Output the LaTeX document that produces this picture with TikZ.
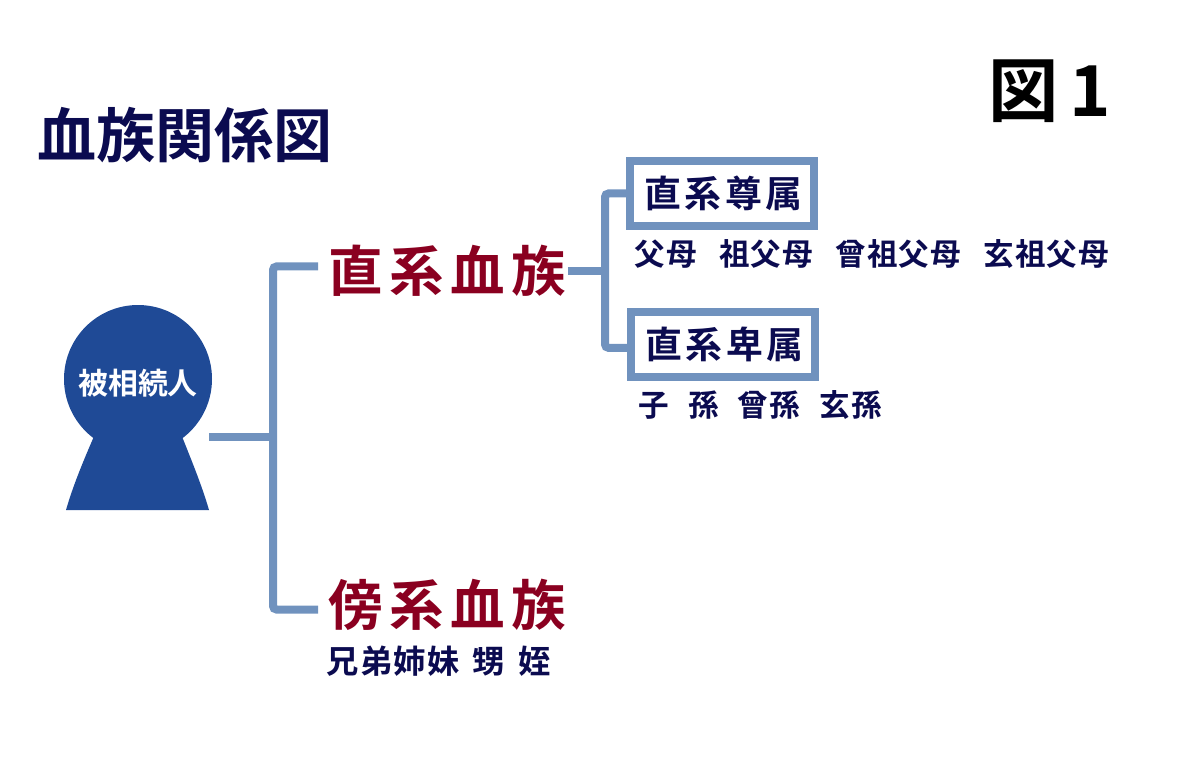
\documentclass[tikz,border=0pt]{standalone}
\usepackage{fontspec}
\newfontfamily\cjk{Noto Sans CJK JP}[BoldFont={Noto Sans CJK JP Bold}]
\newfontfamily\cjkwide{Noto Sans CJK JP}[BoldFont={Noto Sans CJK JP Bold},LetterSpace=12]
\newfontfamily\cjkbox{Noto Sans CJK JP}[BoldFont={Noto Sans CJK JP Bold},LetterSpace=10]
\newfontfamily\cjklist{Noto Sans CJK JP}[BoldFont={Noto Sans CJK JP Bold},LetterSpace=4]
\definecolor{navy}{HTML}{0B0B50}
\definecolor{wine}{HTML}{8A0020}
\definecolor{steel}{HTML}{7092BE}
\definecolor{person}{HTML}{1F4A96}
\tikzset{
  branch/.style={draw=steel,line width=0.08cm,rounded corners=1pt},
  title/.style={font=\cjk\bfseries\fontsize{16.8}{18}\selectfont,text=navy,anchor=west,inner sep=0pt},
  kin/.style={font=\cjkwide\bfseries\fontsize{15.5}{17}\selectfont,text=wine,anchor=west,inner xsep=0.1cm,inner ysep=0.1cm},
  kinbox/.style={draw=steel,line width=0.08cm,font=\cjkbox\bfseries\fontsize{10.5}{12}\selectfont,text=navy,
    minimum width=1.84cm,minimum height=0.65cm,inner sep=0pt},
  members/.style={font=\cjklist\bfseries\fontsize{8.7}{10}\selectfont,text=navy,anchor=west,inner sep=0pt},
}
\begin{document}
\begin{tikzpicture}
  \useasboundingbox (0,0) rectangle (11.98,7.76);
  \node[title] (heading) at (0.37,6.41) {血族関係図};
  \node[anchor=west,inner sep=0pt,font=\cjk\bfseries\fontsize{20}{22}\selectfont] (figno) at (9.88,6.85) {図\hspace{0.11cm}1};
  % person
  \fill[person] (0.95,3.42) .. controls (0.82,3.12) and (0.73,2.9) .. (0.66,2.66) -- (2.09,2.66)
    .. controls (2.02,2.9) and (1.93,3.12) .. (1.81,3.42) -- cycle;
  \node[circle,fill=person,minimum size=1.48cm,inner sep=0pt] (head) at (1.38,3.97) {};
  \node[text=white,inner sep=0pt,font=\cjk\bfseries\fontsize{8.5}{10}\selectfont] (name) at (1.38,3.93) {被相続人};
  \coordinate (hand) at (2.09,3.39);
  \coordinate (trunk) at (2.73,3.39);
  % main groups
  \node[kin] (lineal) at (3.18,5.05) {直系血族};
  \node[kin] (collateral) at (3.18,1.71) {傍系血族};
  \node[members,font=\cjklist\bfseries\fontsize{9.2}{10}\selectfont] (siblings) at (3.26,1.15) {兄弟姉妹\hspace{0.13cm}甥\hspace{0.13cm}姪};
  \node[kinbox] (ascend) at (7.22,5.825) {\hspace{0.03cm}直系尊属};
  \node[kinbox] (descend) at (7.23,4.315) {\hspace{0.03cm}直系卑属};
  \node[members] (ancestors) at (6.34,5.22) {父母\hspace{0.22cm}祖父母\hspace{0.22cm}曾祖父母\hspace{0.22cm}玄祖父母};
  \node[members] (offspring) at (6.38,3.71) {子\hspace{0.19cm}孫\hspace{0.19cm}曾孫\hspace{0.19cm}玄孫};
  \coordinate (fork) at (6.05,5.05);
  % connectors
  \draw[branch] (lineal.178) -| (trunk) |- (collateral.182);
  \draw[branch,rounded corners=0pt] (hand) -- (trunk);
  \draw[branch,rounded corners=0pt] ([xshift=-0.09cm]lineal.east) -- (fork);
  \draw[branch] (ascend.west) -| (fork) |- (descend.182);
\end{tikzpicture}
\end{document}
